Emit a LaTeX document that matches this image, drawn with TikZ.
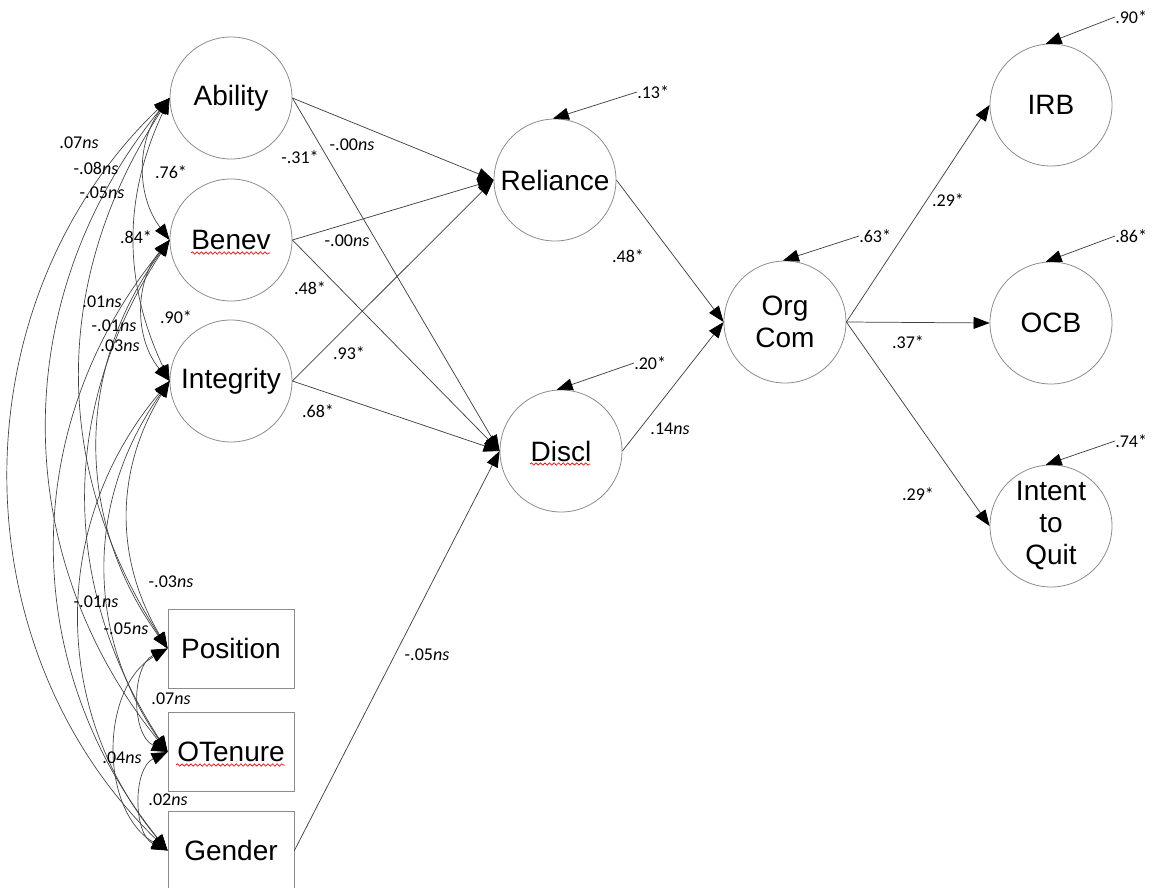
\documentclass[tikz,border=0pt]{standalone}
\usepackage{fontspec}
\newfontfamily\nodefont{Liberation Sans}
\newfontfamily\lblfont{Carlito}
\usetikzlibrary{arrows.meta,decorations.pathmorphing}
\begin{document}
\begin{tikzpicture}[x=0.75pt,y=-0.75pt,
  circ/.style={circle,draw=black!45,line width=0.6pt,minimum size=91.5pt,inner sep=0pt,
    font=\nodefont\fontsize{21}{24}\selectfont,align=center},
  obs/.style={rectangle,draw=black!45,line width=0.6pt,minimum width=94.5pt,minimum height=59.25pt,
    inner sep=0pt,font=\nodefont\fontsize{21}{24}\selectfont},
  lbl/.style={font=\lblfont\fontsize{13.5}{16}\selectfont,inner sep=0pt},
  tipa/.tip={Triangle[length=12pt,width=9pt,color=black,fill=black]},
  arr/.style={draw=black!75,line width=0.55pt,-tipa},
  cov/.style={draw=black!75,line width=0.5pt,tipa-tipa},
  wavy/.style={draw=red,line width=0.5pt,decorate,decoration={snake,amplitude=0.9pt,segment length=3.4pt}}
]
\useasboundingbox (0,0) rectangle (1154,888);

% nodes
\node[circ] (abil) at (231,98) {Ability};
\node[circ] (benev) at (231,240) {Benev};
\node[circ] (integ) at (231,381) {Integrity};
\node[obs] (pos) at (231,648.5) {Position};
\node[obs] (oten) at (231,752) {OTenure};
\node[obs] (gen) at (231,850.5) {Gender};
\node[circ] (rel) at (555,180) {Reliance};
\node[circ] (disc) at (561,451) {Discl};
\node[circ] (org) at (785,322) {Org\\Com};
\node[circ] (irb) at (1051,105) {IRB};
\node[circ] (ocb) at (1051,323) {OCB};
\node[circ] (itq) at (1051,526) {Intent\\to\\Quit};

% spell-check underlines
\coordinate (w1a) at (191,253); \coordinate (w1b) at (270,253);
\coordinate (w2a) at (176,765); \coordinate (w2b) at (285,765);
\coordinate (w3a) at (530,464); \coordinate (w3b) at (590,464);
\draw[wavy] (w1a) -- (w1b);
\draw[wavy] (w2a) -- (w2b);
\draw[wavy] (w3a) -- (w3b);

% covariances
\draw[cov] (abil.west) to[bend right=37] (benev.west);
\draw[cov] (benev.west) to[bend right=40] (integ.west);
\draw[cov] (abil.west) to[bend right=25] (integ.west);
\draw[cov] (abil.west) to[bend right=33] (pos.west);
\draw[cov] (abil.west) to[bend right=39] (oten.west);
\draw[cov] (abil.west) to[bend right=46] (gen.west);
\draw[cov] (benev.west) to[bend right=36] (pos.west);
\draw[cov] (benev.west) to[bend right=33] (oten.west);
\draw[cov] (benev.west) to[bend right=39] (gen.west);
\draw[cov] (integ.west) to[bend right=31] (pos.west);
\draw[cov] (integ.west) to[bend right=35] (oten.west);
\draw[cov] (integ.west) to[bend right=40] (gen.west);
\draw[cov] (pos.west) to[bend right=65] (oten.west);
\draw[cov] (pos.west) to[bend right=60] (gen.west);
\draw[cov] (oten.west) to[bend right=65] (gen.west);

% covariance labels
\node[lbl] at (171,172) {.76*};
\node[lbl] at (136,237) {.84*};
\node[lbl] at (176,317) {.90*};
\node[lbl] at (79,143) {.07\textit{ns}};
\node[lbl] at (96,168) {-.08\textit{ns}};
\node[lbl] at (102,193) {-.05\textit{ns}};
\node[lbl] at (102,302) {.01\textit{ns}};
\node[lbl] at (114,326) {-.01\textit{ns}};
\node[lbl] at (120,346) {.03\textit{ns}};
\node[lbl] at (171,582) {-.03\textit{ns}};
\node[lbl] at (96,602) {-.01\textit{ns}};
\node[lbl] at (126,629) {-.05\textit{ns}};
\node[lbl] at (171,699) {.07\textit{ns}};
\node[lbl] at (122,758) {.04\textit{ns}};
\node[lbl] at (168,800) {.02\textit{ns}};

% structural paths
\draw[arr] (abil.east) -- (rel.west);
\draw[arr] (benev.east) -- (rel.west);
\draw[arr] (integ.east) -- (rel.west);
\draw[arr] (abil.east) -- (disc.west);
\draw[arr] (benev.east) -- (disc.west);
\draw[arr] (integ.east) -- (disc.west);
\draw[arr] (gen.east) -- (disc.west);
\draw[arr] (rel.east) -- (org.west);
\draw[arr] (disc.east) -- (org.west);
\draw[arr] (org.east) -- (irb.west);
\draw[arr] (org.east) -- (ocb.west);
\draw[arr] (org.east) -- (itq.west);

% path labels
\node[lbl] at (352,145) {-.00\textit{ns}};
\node[lbl] at (300,157) {-.31*};
\node[lbl] at (347,241) {-.00\textit{ns}};
\node[lbl] at (310,288) {.48*};
\node[lbl] at (349,353) {.93*};
\node[lbl] at (318,411) {.68*};
\node[lbl] at (427,655) {-.05\textit{ns}};
\node[lbl] at (628,256) {.48*};
\node[lbl] at (670,429) {.14\textit{ns}};
\node[lbl] at (948,200) {.29*};
\node[lbl] at (908,342) {.37*};
\node[lbl] at (918,494) {.29*};

% residuals
\node[lbl,anchor=west] (e1) at (637,92) {.13*};
\node[lbl,anchor=west] (e2) at (634,363) {.20*};
\node[lbl,anchor=west] (e3) at (859,236) {.63*};
\node[lbl,anchor=west] (e4) at (1115,17) {.90*};
\node[lbl,anchor=west] (e5) at (1115,236) {.86*};
\node[lbl,anchor=west] (e6) at (1115,441) {.74*};
\draw[arr] (e1.west) -- (rel.92);
\draw[arr] (e2.west) -- (disc.94);
\draw[arr] (e3.west) -- (org.92);
\draw[arr] (e4.west) -- (irb.95);
\draw[arr] (e5.west) -- (ocb.95);
\draw[arr] (e6.west) -- (itq.95);
\end{tikzpicture}
\end{document}
